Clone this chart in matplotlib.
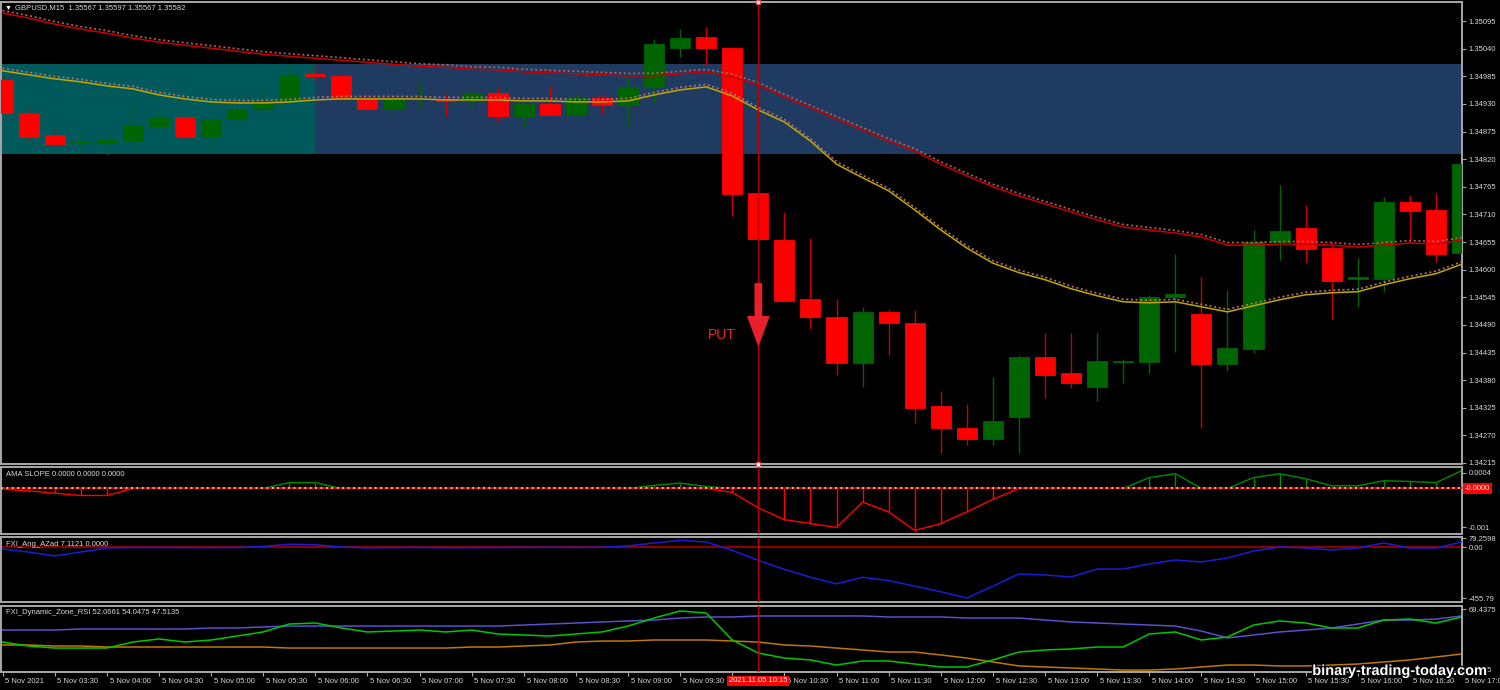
import matplotlib
matplotlib.use("Agg")
import matplotlib.pyplot as plt
import matplotlib.patheffects as pe
import numpy as np
from matplotlib.patches import Rectangle
from matplotlib.transforms import ScaledTranslation, blended_transform_factory

plt.rcParams["font.family"] = ["Liberation Sans", "DejaVu Sans"]

# GBPUSD M15 bars, 5 Nov 2021 03:00 .. 17:00
opens = [1.34978, 1.34912, 1.34868, 1.34852, 1.34852, 1.34856, 1.34886, 1.34904, 1.34864, 1.34900,
         1.34920, 1.34938, 1.34990, 1.34986, 1.34940, 1.34920, 1.34939, 1.34940, 1.34936, 1.34952,
         1.34906, 1.34930, 1.34908, 1.34942, 1.34928, 1.34964, 1.35041, 1.35063, 1.35041, 1.34753,
         1.34659, 1.34542, 1.34506, 1.34414, 1.34516, 1.34494, 1.34329, 1.34285, 1.34263, 1.34307,
         1.34426, 1.34394, 1.34367, 1.34416, 1.34416, 1.34546, 1.34512, 1.34412, 1.34442, 1.34655,
         1.34683, 1.34643, 1.34582, 1.34582, 1.34735, 1.34719, 1.34633]
highs = [1.34984, 1.34922, 1.34880, 1.34882, 1.34864, 1.34932, 1.34920, 1.34906, 1.34900, 1.34930,
         1.34964, 1.35005, 1.35009, 1.34988, 1.34952, 1.34950, 1.34974, 1.34950, 1.34956, 1.34962,
         1.34934, 1.34966, 1.34950, 1.34950, 1.34984, 1.35059, 1.35079, 1.35083, 1.35043, 1.34753,
         1.34715, 1.34663, 1.34542, 1.34526, 1.34522, 1.34520, 1.34359, 1.34333, 1.34387, 1.34430,
         1.34474, 1.34474, 1.34474, 1.34422, 1.34550, 1.34631, 1.34586, 1.34560, 1.34679, 1.34769,
         1.34729, 1.34655, 1.34623, 1.34745, 1.34749, 1.34753, 1.34818]
lows = [1.34906, 1.34856, 1.34846, 1.34838, 1.34828, 1.34840, 1.34882, 1.34858, 1.34836, 1.34888,
        1.34914, 1.34934, 1.34976, 1.34936, 1.34914, 1.34904, 1.34920, 1.34906, 1.34922, 1.34894,
        1.34886, 1.34908, 1.34908, 1.34912, 1.34886, 1.34932, 1.35023, 1.35007, 1.34707, 1.34659,
        1.34538, 1.34482, 1.34390, 1.34367, 1.34430, 1.34295, 1.34235, 1.34251, 1.34251, 1.34235,
        1.34345, 1.34365, 1.34339, 1.34375, 1.34394, 1.34436, 1.34285, 1.34398, 1.34434, 1.34619,
        1.34613, 1.34502, 1.34526, 1.34556, 1.34655, 1.34615, 1.34633]
closes = [1.34912, 1.34864, 1.34850, 1.34854, 1.34858, 1.34888, 1.34904, 1.34864, 1.34900, 1.34920,
          1.34936, 1.34988, 1.34986, 1.34942, 1.34920, 1.34940, 1.34940, 1.34936, 1.34950, 1.34906,
          1.34930, 1.34908, 1.34942, 1.34928, 1.34964, 1.35049, 1.35061, 1.35041, 1.34751, 1.34661,
          1.34538, 1.34506, 1.34414, 1.34516, 1.34494, 1.34325, 1.34285, 1.34263, 1.34299, 1.34426,
          1.34390, 1.34375, 1.34418, 1.34418, 1.34546, 1.34552, 1.34412, 1.34444, 1.34655, 1.34677,
          1.34641, 1.34578, 1.34586, 1.34735, 1.34717, 1.34631, 1.34810]

# moving averages (solid) and their dotted companions
ma_slow = [1.35111, 1.35101, 1.35089, 1.35079, 1.35071, 1.35061, 1.35053, 1.35047, 1.35041, 1.35035,
           1.35029, 1.35025, 1.35021, 1.35017, 1.35013, 1.35009, 1.35005, 1.35003, 1.34999, 1.34998,
           1.34994, 1.34992, 1.34990, 1.34988, 1.34986, 1.34986, 1.34990, 1.34994, 1.34984, 1.34968,
           1.34944, 1.34922, 1.34900, 1.34878, 1.34856, 1.34836, 1.34810, 1.34787, 1.34765, 1.34747,
           1.34731, 1.34715, 1.34699, 1.34685, 1.34679, 1.34673, 1.34665, 1.34649, 1.34649, 1.34651,
           1.34651, 1.34649, 1.34645, 1.34649, 1.34653, 1.34651, 1.34659]
ma_slow_dot = [1.35116, 1.35106, 1.35094, 1.35084, 1.35076, 1.35066, 1.35058, 1.35052, 1.35046, 1.35040,
               1.35034, 1.35030, 1.35026, 1.35022, 1.35018, 1.35014, 1.35010, 1.35008, 1.35004, 1.35003,
               1.34999, 1.34997, 1.34995, 1.34993, 1.34991, 1.34991, 1.34995, 1.34999, 1.34989, 1.34973,
               1.34949, 1.34927, 1.34905, 1.34883, 1.34861, 1.34841, 1.34815, 1.34792, 1.34770, 1.34752,
               1.34736, 1.34720, 1.34704, 1.34690, 1.34684, 1.34678, 1.34670, 1.34654, 1.34654, 1.34656,
               1.34656, 1.34654, 1.34650, 1.34654, 1.34658, 1.34656, 1.34664]
ma_fast = [1.34996, 1.34988, 1.34980, 1.34974, 1.34966, 1.34960, 1.34948, 1.34940, 1.34934, 1.34932,
           1.34932, 1.34934, 1.34938, 1.34940, 1.34940, 1.34940, 1.34940, 1.34938, 1.34938, 1.34938,
           1.34936, 1.34936, 1.34934, 1.34934, 1.34936, 1.34948, 1.34958, 1.34964, 1.34946, 1.34918,
           1.34894, 1.34856, 1.34810, 1.34783, 1.34757, 1.34719, 1.34679, 1.34643, 1.34613, 1.34594,
           1.34580, 1.34562, 1.34548, 1.34536, 1.34534, 1.34536, 1.34526, 1.34516, 1.34528, 1.34540,
           1.34550, 1.34554, 1.34556, 1.34570, 1.34582, 1.34592, 1.34611]
ma_fast_dot = [1.35001, 1.34993, 1.34985, 1.34979, 1.34971, 1.34965, 1.34953, 1.34945, 1.34939, 1.34937,
               1.34937, 1.34939, 1.34943, 1.34945, 1.34945, 1.34945, 1.34945, 1.34943, 1.34943, 1.34943,
               1.34941, 1.34941, 1.34939, 1.34939, 1.34941, 1.34953, 1.34963, 1.34969, 1.34951, 1.34923,
               1.34899, 1.34861, 1.34815, 1.34788, 1.34762, 1.34724, 1.34684, 1.34648, 1.34618, 1.34599,
               1.34585, 1.34567, 1.34553, 1.34541, 1.34539, 1.34541, 1.34531, 1.34521, 1.34533, 1.34545,
               1.34555, 1.34559, 1.34561, 1.34575, 1.34587, 1.34597, 1.34616]

# supply/demand zone
zone_high = 1.35009
zone_low = 1.34830
zone_split = 12

price_ticks = [1.35095, 1.35040, 1.34985, 1.34930, 1.34875, 1.34820, 1.34765, 1.34710, 1.34655,
               1.34600, 1.34545, 1.34490, 1.34435, 1.34380, 1.34325, 1.34270, 1.34215]

# signal
signal_idx = 29
put_tail = 1.34572
put_tip = 1.34450
signal_label = "2021.11.05 10:15"

ama_slope = [-0.00002, -0.00006, -0.00012, -0.00018, -0.00018, 0, 0, 0, 0, 0,
             0, 0.00015, 0.00015, 0, 0, 0, 0, 0, 0, 0,
             0, 0, 0, 0, 0, 0.00008, 0.00014, 0.00005, -0.0001, -0.0005,
             -0.0008, -0.0009, -0.001, -0.00035, -0.0006, -0.00108, -0.0009, -0.0006, -0.00028, 0,
             0, 0, 0, 0, 0.00028, 0.00038, 0, 0, 0.00028, 0.00038,
             0.00025, 0.00007, 0.00007, 0.0002, 0.00018, 0.00015, 0.00046]

ang_azad = [-18, -45, -80, -45, -9, -5, -5, -6, -6, -5,
            5, 25, 20, 0, -8, -6, -4, -7, -6, -5,
            -4, -3, -4, -2, 10, 35, 60, 45, -30, -120,
            -200, -270, -330, -270, -300, -350, -400, -455.79, -350, -241,
            -250, -268, -197, -197, -152, -116, -134, -98, -36, 0,
            -9, -27, -9, 36, -9, -9, 45]

rsi_upper = [48.8, 48.8, 48.8, 49.8, 49.8, 49.8, 49.8, 49.8, 50.8, 50.8,
             51.8, 52.7, 52.7, 52.7, 52.7, 52.7, 52.7, 52.7, 52.7, 52.7,
             53.7, 54.7, 55.7, 56.7, 57.7, 58.6, 60.6, 61.6, 61.6, 62.6,
             62.6, 62.6, 62.6, 62.6, 61.6, 61.6, 61.6, 60.6, 60.6, 60.6,
             58.6, 56.7, 55.7, 54.7, 53.7, 52.7, 47.8, 41.0, 43.9, 46.9,
             48.8, 50.8, 54.7, 58.6, 58.6, 59.6, 62.6]
rsi_line = [37.0, 33.1, 31.1, 31.1, 31.1, 37.0, 40.0, 37.0, 39.0, 42.9,
            46.9, 54.7, 55.7, 50.8, 46.9, 47.8, 48.8, 46.9, 48.8, 44.9,
            43.9, 42.9, 44.9, 46.9, 52.7, 60.6, 67.5, 65.5, 39.0, 26.2,
            21.3, 19.4, 14.4, 18.4, 18.4, 15.4, 12.5, 12.5, 19.4, 27.2,
            29.2, 30.2, 32.1, 32.1, 44.9, 46.9, 39.0, 41.9, 53.7, 57.7,
            55.7, 50.8, 50.8, 58.6, 59.6, 55.7, 61.6]
rsi_lower = [34.1, 34.1, 33.1, 33.1, 32.1, 32.1, 32.1, 32.1, 32.1, 32.1,
             32.1, 31.1, 31.1, 31.1, 31.1, 31.1, 31.1, 31.1, 32.1, 32.1,
             33.1, 34.1, 37.0, 38.0, 38.0, 39.0, 39.0, 39.0, 38.0, 37.0,
             34.1, 33.1, 31.1, 29.2, 27.2, 27.2, 24.3, 21.3, 17.4, 13.5,
             12.5, 11.5, 10.5, 9.5, 9.5, 10.5, 12.5, 14.4, 14.4, 13.5,
             13.5, 14.4, 15.4, 17.4, 19.4, 22.3, 25.3]

time_labels = ["5 Nov 2021", "5 Nov 03:30", "5 Nov 04:00", "5 Nov 04:30", "5 Nov 05:00",
               "5 Nov 05:30", "5 Nov 06:00", "5 Nov 06:30", "5 Nov 07:00", "5 Nov 07:30",
               "5 Nov 08:00", "5 Nov 08:30", "5 Nov 09:00", "5 Nov 09:30", "5 Nov 10:00",
               "5 Nov 10:30", "5 Nov 11:00", "5 Nov 11:30", "5 Nov 12:00", "5 Nov 12:30",
               "5 Nov 13:00", "5 Nov 13:30", "5 Nov 14:00", "5 Nov 14:30", "5 Nov 15:00",
               "5 Nov 15:30", "5 Nov 16:00", "5 Nov 16:30", "5 Nov 17:00"]

W, H = 1500, 690
BG = "#000000"
FRAME = "#a8a8a8"
TXT = "#d8d8d8"
BULL = "#006400"
BEAR = "#ff0000"
XRED = "#c00000"
FS = 5.5


def box(top, bottom):
    # panel rectangle given pixel rows of the canvas
    return [1 / W, 1 - bottom / H, 1461 / W, (bottom - top) / H]


def style(ax):
    ax.set_facecolor(BG)
    for s in ax.spines.values():
        s.set_color(FRAME)
        s.set_linewidth(1.4)
    ax.yaxis.tick_right()
    ax.tick_params(axis="y", colors=FRAME, labelcolor=TXT, labelsize=FS,
                   length=3, width=0.8, pad=2)
    ax.tick_params(axis="x", bottom=False, labelbottom=False)


fig = plt.figure(figsize=(15, 6.9), dpi=100, facecolor=BG)
ax = fig.add_axes(box(2, 464))
ax1 = fig.add_axes(box(467, 534), sharex=ax)
ax2 = fig.add_axes(box(537, 602), sharex=ax)
ax3 = fig.add_axes(box(606, 672), sharex=ax)
for a in (ax, ax1, ax2, ax3):
    style(a)

idx = np.arange(len(opens))
o, h, l, c = (np.array(v) for v in (opens, highs, lows, closes))
up = c >= o
body_col = np.where(up, BULL, BEAR)
wick_col = np.where(up, BULL, "#c80000")

# main price panel
ax.add_patch(Rectangle((-1, zone_low), zone_split + 1, zone_high - zone_low,
                       facecolor="#005a5c", edgecolor="none", zorder=0))
ax.add_patch(Rectangle((zone_split, zone_low), 60, zone_high - zone_low,
                       facecolor="#203b62", edgecolor="none", zorder=0))
ax.vlines(idx, l, h, colors=wick_col, lw=1, zorder=2)
ax.bar(idx, np.abs(c - o), bottom=np.minimum(o, c), width=0.77, color=body_col,
       edgecolor=body_col, linewidth=0.6, zorder=3)
ax.plot(idx, ma_slow, color="#c80000", lw=1.1, zorder=4)
ax.plot(idx, ma_slow_dot, color="#b86060", lw=1.2, ls=(0, (1.2, 1.6)), zorder=4)
ax.plot(idx, ma_fast, color="#c0a800", lw=1.1, zorder=4)
ax.plot(idx, ma_fast_dot, color="#b87070", lw=1.2, ls=(0, (1.2, 1.6)), zorder=4)

ax.set_xlim(-0.06, 56.0)
ax.set_ylim(1.34213, 1.35133)
ax.set_yticks(price_ticks)
ax.set_yticklabels([f"{p:.5f}" for p in price_ticks])

ax.annotate("", xy=(signal_idx, put_tip), xytext=(signal_idx, put_tail),
            arrowprops=dict(arrowstyle="simple,head_length=1.7,head_width=1.25,tail_width=0.38",
                            color="#e8202c", shrinkA=0, shrinkB=0, mutation_scale=12),
            zorder=6)
ax.text(signal_idx - 1.4, 1.34470, "PUT", color="#e0282e", fontsize=10,
        ha="center", va="center", zorder=6)

# AMA slope
slope = np.array(ama_slope)
ax1.vlines(idx, 0, slope, colors=np.where(slope < 0, "#ff0000", "#008c00"), lw=1, zorder=2)
ax1.plot(idx, np.minimum(slope, 0), color="#ff0000", lw=1, zorder=2)
ax1.plot(idx, np.maximum(slope, 0), color="#008c00", lw=1, zorder=2)
ax1.axhline(0, color="#d00000", lw=1.3, zorder=3)
ax1.axhline(0, color="#ffc8b0", lw=1.3, ls=(0, (1, 2)), zorder=3)
ax1.set_ylim(-0.001169, 0.000552)
ax1.set_yticks([0.0004, -0.001])
ax1.set_yticklabels(["0.0004", "-0.001"])
ax1.text(1.002, 0, "-0.0000", transform=blended_transform_factory(ax1.transAxes, ax1.transData),
         color="white", fontsize=FS, ha="left", va="center", clip_on=False,
         bbox=dict(facecolor="#ff0000", edgecolor="none", pad=1.2))

# FXI angle
ax2.axhline(0, color="#8b0000", lw=1.5, zorder=2)
ax2.plot(idx, ang_azad, color="#1c1cd8", lw=1.1, zorder=3)
ax2.set_ylim(-491.5, 89.4)
ax2.set_yticks([79.2598, 0, -455.79])
ax2.set_yticklabels(["79.2598", "0.00", "-455.79"])

# dynamic zone RSI
ax3.plot(idx, rsi_lower, color="#c07800", lw=1.1)
ax3.plot(idx, rsi_upper, color="#5a4fcf", lw=1.1)
ax3.plot(idx, rsi_line, color="#00c800", lw=1.1)
ax3.set_ylim(7.57, 72.4)
ax3.set_yticks([69.4375, 9.5375])
ax3.set_yticklabels(["69.4375", "9.5375"])

# time axis
tick_pos = idx[::2]
ax3.set_xticks(tick_pos)
ax3.set_xticklabels(time_labels, ha="left")
ax3.tick_params(axis="x", bottom=True, labelbottom=True, length=3, width=0.8,
                colors=FRAME, labelcolor=TXT, labelsize=FS, pad=1.5)
shift = ScaledTranslation(2 / 72, 0, fig.dpi_scale_trans)
for pos, lab in zip(tick_pos, ax3.get_xticklabels()):
    lab.set_transform(lab.get_transform() + shift)
    if abs(pos - signal_idx) < 1.5 and pos < signal_idx:
        lab.set_visible(False)  # hidden under the crosshair date box

# crosshair on the signal bar
for a in (ax, ax1, ax2, ax3):
    a.axvline(signal_idx, color=XRED, lw=1, zorder=5)
ax.plot([signal_idx, signal_idx], ax.get_ylim(), ls="none", marker="s", ms=3,
        mfc="white", mec="#ff4040", mew=0.6, clip_on=False, zorder=7)
fig.text(signal_idx, 1 - 681 / H, signal_label,
         transform=blended_transform_factory(ax3.transData, fig.transFigure),
         color="white", fontsize=FS, ha="center", va="center",
         bbox=dict(facecolor="#ff0000", edgecolor="none", pad=1.3))

# headers
fig.text(5 / W, 1 - 8 / H, "\u25bc", color="white", fontsize=5, va="center")
fig.text(15 / W, 1 - 8 / H, "GBPUSD,M15  1.35567 1.35597 1.35567 1.35582",
         color=TXT, fontsize=FS, va="center")
fig.text(6 / W, 1 - 475 / H, "AMA SLOPE 0.0000 0.0000 0.0000", color=TXT, fontsize=FS, va="center")
fig.text(6 / W, 1 - 544 / H, "FXI_Ang_AZad 7.1121 0.0000", color=TXT, fontsize=FS, va="center")
fig.text(6 / W, 1 - 613 / H, "FXI_Dynamic_Zone_RSI 52.0661 54.0475 47.5135",
         color=TXT, fontsize=FS, va="center")

fig.text(1400 / W, 1 - 671 / H, "binary-trading-today.com", color="white", fontsize=10.5,
         fontweight="bold", ha="center", va="center",
         path_effects=[pe.withStroke(linewidth=2, foreground="black")])

fig.savefig("out.png", dpi=100, facecolor=BG)
